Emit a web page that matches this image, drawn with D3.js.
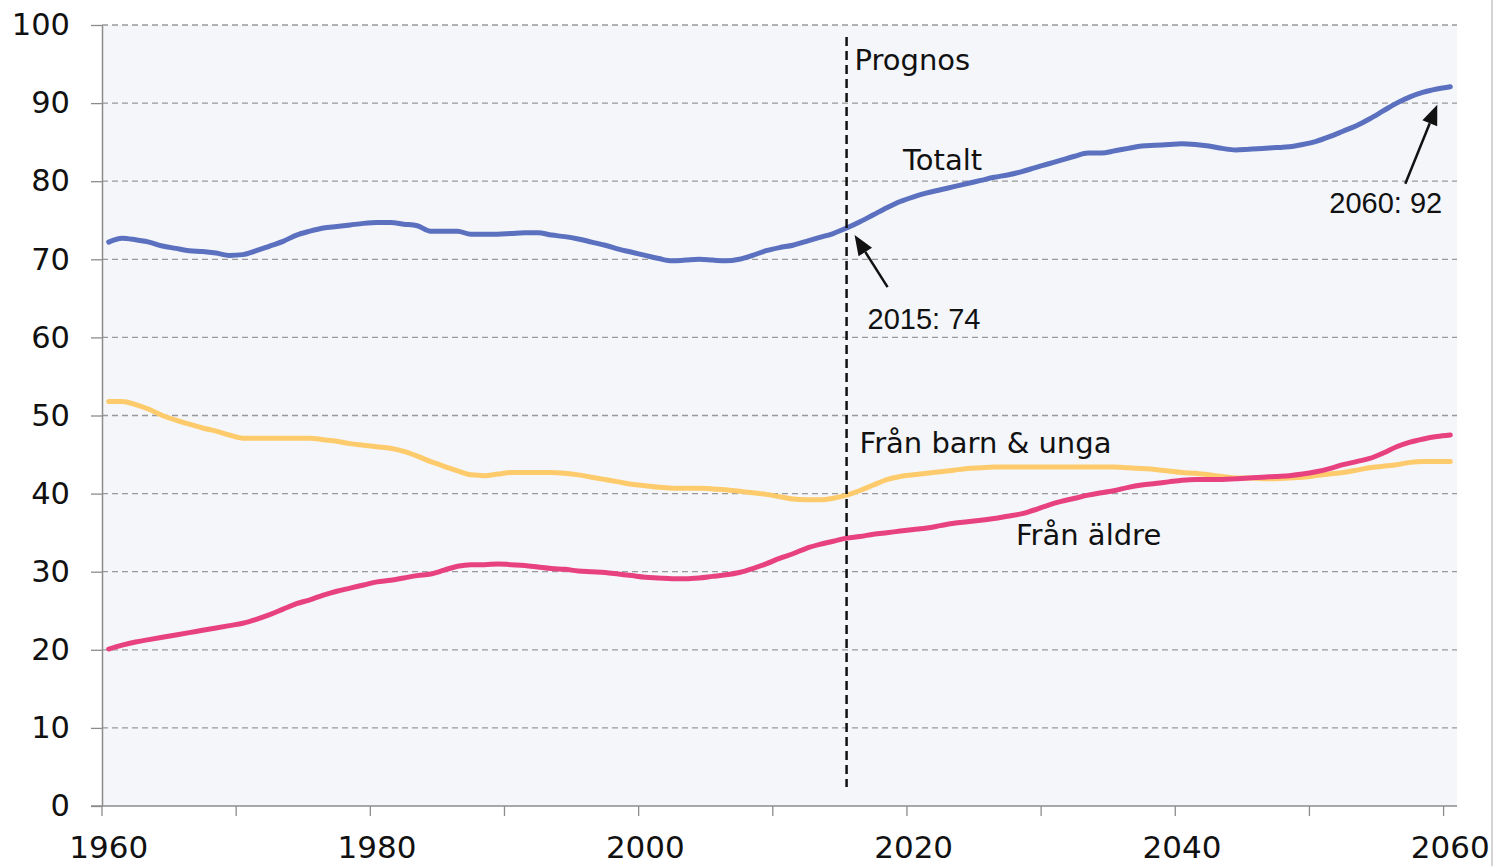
<!DOCTYPE html>
<html lang="sv">
<head>
<meta charset="utf-8">
<script src="https://d3js.org/d3.v7.min.js"></script>
<style>
  body { margin: 0; background: #fff; }
  svg { display: block; }
</style>
<script>
// data, one value per year 1960..2060
const years = d3.range(1960, 2061);

const totalt = [
  72.2, 72.7, 72.5, 72.2, 71.7, 71.4, 71.1, 71.0, 70.8, 70.5,
  70.6, 71.1, 71.7, 72.3, 73.1, 73.6, 74.0, 74.2, 74.4, 74.6,
  74.7, 74.7, 74.5, 74.3, 73.6, 73.6, 73.6, 73.2, 73.2, 73.2,
  73.3, 73.4, 73.4, 73.1, 72.9, 72.6, 72.2, 71.8, 71.3, 70.9,
  70.5, 70.1, 69.8, 69.9, 70.0, 69.9, 69.8, 70.0, 70.5, 71.1,
  71.5, 71.8, 72.3, 72.8, 73.3, 74.0, 74.8, 75.7, 76.6, 77.4,
  78.0, 78.5, 78.9, 79.3, 79.7, 80.1, 80.5, 80.8, 81.2, 81.7,
  82.2, 82.7, 83.2, 83.6, 83.6, 83.9, 84.2, 84.5, 84.6, 84.7,
  84.8, 84.7, 84.5, 84.2, 84.0, 84.1, 84.2, 84.3, 84.4, 84.7,
  85.1, 85.7, 86.4, 87.1, 88.0, 89.0, 90.0, 90.8, 91.4, 91.8,
  92.1
];

const barnUnga = [
  51.8, 51.8, 51.4, 50.8, 50.0, 49.4, 48.9, 48.4, 48.0, 47.5,
  47.1, 47.1, 47.1, 47.1, 47.1, 47.1, 46.9, 46.7, 46.4, 46.2,
  46.0, 45.8, 45.4, 44.8, 44.1, 43.5, 42.9, 42.4, 42.3, 42.5,
  42.7, 42.7, 42.7, 42.7, 42.6, 42.4, 42.1, 41.8, 41.5, 41.2,
  41.0, 40.8, 40.7, 40.7, 40.7, 40.6, 40.5, 40.3, 40.1, 39.9,
  39.6, 39.3, 39.2, 39.2, 39.4, 39.8, 40.4, 41.1, 41.8, 42.2,
  42.4, 42.6, 42.8, 43.0, 43.2, 43.3, 43.4, 43.4, 43.4, 43.4,
  43.4, 43.4, 43.4, 43.4, 43.4, 43.4, 43.3, 43.2, 43.1, 42.9,
  42.7, 42.6, 42.4, 42.2, 42.0, 42.0, 41.9, 41.9, 42.0, 42.1,
  42.3, 42.5, 42.7, 43.0, 43.3, 43.5, 43.7, 44.0, 44.1, 44.1,
  44.1
];

const aldre = [
  20.1, 20.6, 21.0, 21.3, 21.6, 21.9, 22.2, 22.5, 22.8, 23.1,
  23.4, 23.9, 24.5, 25.2, 25.9, 26.4, 27.0, 27.5, 27.9, 28.3,
  28.7, 28.9, 29.2, 29.5, 29.7, 30.2, 30.7, 30.9, 30.9, 31.0,
  30.9, 30.8, 30.6, 30.4, 30.3, 30.1, 30.0, 29.9, 29.7, 29.5,
  29.3, 29.2, 29.1, 29.1, 29.2, 29.4, 29.6, 29.9, 30.4, 31.0,
  31.7, 32.3, 33.0, 33.5, 33.9, 34.3, 34.5, 34.8, 35.0, 35.2,
  35.4, 35.6, 35.9, 36.2, 36.4, 36.6, 36.8, 37.1, 37.4, 37.9,
  38.5, 39.0, 39.4, 39.8, 40.1, 40.4, 40.8, 41.1, 41.3, 41.5,
  41.7, 41.8, 41.8, 41.8, 41.9, 42.0, 42.1, 42.2, 42.3, 42.5,
  42.8, 43.2, 43.7, 44.1, 44.5, 45.2, 46.0, 46.6, 47.0, 47.3,
  47.5
];

const seriesNames = ["Totalt", "Från barn & unga", "Från äldre"];
const yTicks = d3.range(0, 101, 10);
const xLabelYears = [1960, 1980, 2000, 2020, 2040, 2060];
const xTickYears = d3.range(1960, 2061, 10);
const prognosYear = 2015;
const callouts = [
  { year: 2015, text: "2015: 74" },
  { year: 2060, text: "2060: 92" }
];

document.addEventListener("DOMContentLoaded", function() {
  const width = 1499, height = 866;
  const left = 102, right = 1457, top = 25, bottom = 806;

  const svg = d3.select("body").append("svg")
    .attr("width", width)
    .attr("height", height);

  // category axis: each year is a slot, points sit in the middle of it
  const x = d3.scaleLinear().domain([1960, 2061]).range([left, right]);
  const y = d3.scaleLinear().domain([0, 100]).range([bottom, top]);
  const cx = yr => x(yr + 0.5);

  // plot background
  svg.append("rect")
    .attr("x", left).attr("y", top)
    .attr("width", right - left).attr("height", bottom - top)
    .attr("fill", "#f4f6fa");

  // dashed gridlines
  svg.append("g").selectAll("line")
    .data(yTicks.filter(d => d > 0))
    .join("line")
      .attr("x1", left).attr("x2", right)
      .attr("y1", d => y(d)).attr("y2", d => y(d))
      .attr("stroke", "#999")
      .attr("stroke-width", 1.3)
      .attr("stroke-dasharray", "6,4");

  // y axis
  const yAxis = svg.append("g")
    .attr("transform", `translate(${left},0)`)
    .call(d3.axisLeft(y).tickValues(yTicks).tickSize(11).tickSizeOuter(0).tickPadding(21));
  yAxis.select(".domain").attr("stroke", "#8c8c8c").attr("stroke-width", 1.5);
  yAxis.selectAll(".tick line").attr("stroke", "#8c8c8c").attr("stroke-width", 1.3);
  yAxis.selectAll(".tick text")
    .attr("fill", "#111")
    .style("font-family", "'DejaVu Sans', Verdana, sans-serif")
    .style("font-size", "30.5px");

  // x axis: ticks on slot boundaries, labels on slot centres
  svg.append("line")
    .attr("x1", 91).attr("x2", right)
    .attr("y1", bottom).attr("y2", bottom)
    .attr("stroke", "#8c8c8c").attr("stroke-width", 1.6);
  svg.append("g").selectAll("line")
    .data(xTickYears)
    .join("line")
      .attr("x1", d => x(d)).attr("x2", d => x(d))
      .attr("y1", bottom).attr("y2", bottom + 10)
      .attr("stroke", "#8c8c8c").attr("stroke-width", 1.3);
  svg.append("g").selectAll("text")
    .data(xLabelYears)
    .join("text")
      .attr("x", d => cx(d))
      .attr("y", 858)
      .attr("text-anchor", "middle")
      .attr("fill", "#111")
      .style("font-family", "'DejaVu Sans', Verdana, sans-serif")
      .style("font-size", "31px")
      .text(d => d);

  // lines
  const line = d3.line()
    .x((d, i) => cx(years[i]))
    .y(d => y(d))
    .curve(d3.curveMonotoneX);

  const series = [
    { name: seriesNames[0], values: totalt, color: "#5b70bf" },
    { name: seriesNames[1], values: barnUnga, color: "#fecb6c" },
    { name: seriesNames[2], values: aldre, color: "#e8417f" }
  ];
  svg.append("g").selectAll("path")
    .data(series)
    .join("path")
      .attr("d", d => line(d.values))
      .attr("fill", "none")
      .attr("stroke", d => d.color)
      .attr("stroke-width", 5)
      .attr("stroke-linecap", "round")
      .attr("stroke-linejoin", "round");

  // forecast divider
  svg.append("line")
    .attr("x1", cx(prognosYear)).attr("x2", cx(prognosYear))
    .attr("y1", 37).attr("y2", 787)
    .attr("stroke", "#111")
    .attr("stroke-width", 2.5)
    .attr("stroke-dasharray", "9,5");

  const label = (txt, px, py, font) => svg.append("text")
    .attr("x", px).attr("y", py)
    .attr("fill", "#111")
    .style("font-family", font || "'DejaVu Sans', Verdana, sans-serif")
    .style("font-size", "29px")
    .text(txt);

  label("Prognos", cx(prognosYear) + 8, 70);
  label(seriesNames[0], 903, 170);
  label(seriesNames[1], cx(prognosYear) + 13, 453);
  label(seriesNames[2], 1016, 545);

  // arrows pointing at the callout values
  function arrow(x1, y1, x2, y2) {
    const ang = Math.atan2(y2 - y1, x2 - x1);
    const len = 20, half = 8;
    const bx = x2 - len * Math.cos(ang), by = y2 - len * Math.sin(ang);
    svg.append("line")
      .attr("x1", x1).attr("y1", y1).attr("x2", bx).attr("y2", by)
      .attr("stroke", "#111").attr("stroke-width", 2.5);
    const pts = [
      [x2, y2],
      [bx + half * Math.sin(ang), by - half * Math.cos(ang)],
      [bx - half * Math.sin(ang), by + half * Math.cos(ang)]
    ];
    svg.append("path")
      .attr("d", "M" + pts.map(p => p.join(",")).join("L") + "Z")
      .attr("fill", "#111");
  }

  const arial = "'Liberation Sans', Arial, sans-serif";
  const c0 = callouts[0], c1 = callouts[1];
  const p0 = [cx(c0.year), y(totalt[years.indexOf(c0.year)])];
  const p1 = [cx(c1.year), y(totalt[years.indexOf(c1.year)])];
  arrow(p0[0] + 41, p0[1] + 59, p0[0] + 8, p0[1] + 7);
  label(c0.text, p0[0] + 21, p0[1] + 101, arial);
  arrow(p1[0] - 45, p1[1] + 97, p1[0] - 13, p1[1] + 18);
  label(c1.text, p1[0] - 121, p1[1] + 126, arial);

  // light frame edge on the right, as in the source image
  svg.append("line")
    .attr("x1", 1492).attr("x2", 1492)
    .attr("y1", 0).attr("y2", height)
    .attr("stroke", "#d4d4d4").attr("stroke-width", 2);
});
</script>
</head>
<body>
</body>
</html>
